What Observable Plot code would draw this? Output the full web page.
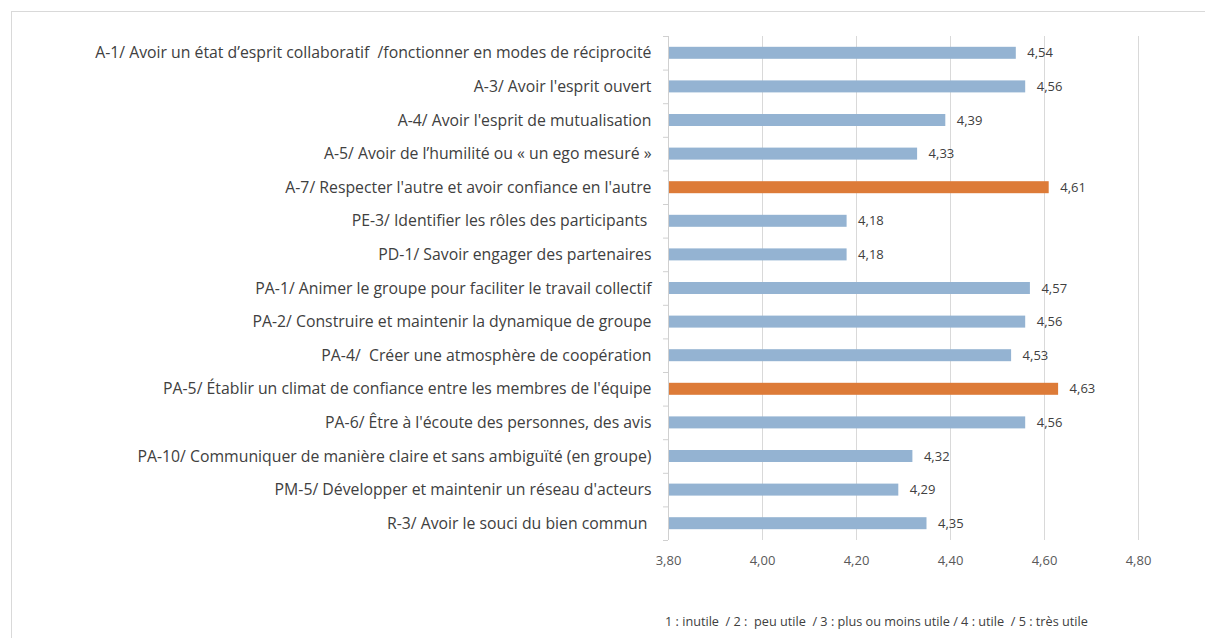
<!DOCTYPE html>
<html><head><meta charset="utf-8">
<script src="https://cdn.jsdelivr.net/npm/d3@7"></script>
<script src="https://cdn.jsdelivr.net/npm/@observablehq/plot@0.6"></script>
<style>
body{margin:0;background:#fff;font-family:"Open Sans", sans-serif;}
#frame{position:absolute;left:11px;top:11px;width:1300px;height:700px;border:1px solid #d9d9d9;box-sizing:border-box;}
#chart{position:absolute;left:0;top:0;}
#legend{position:absolute;left:665px;top:612px;font-size:12.7px;color:#404040;white-space:pre;}
</style></head><body>
<div id="frame"></div>
<div id="chart"></div>
<div id="legend">1 : inutile  / 2 :  peu utile  / 3 : plus ou moins utile / 4 : utile  / 5 : très utile</div>
<script>
const categories = [
  "A-1/ Avoir un état d’esprit collaboratif  /fonctionner en modes de réciprocité",
  "A-3/ Avoir l'esprit ouvert",
  "A-4/ Avoir l'esprit de mutualisation",
  "A-5/ Avoir de l’humilité ou « un ego mesuré »",
  "A-7/ Respecter l'autre et avoir confiance en l'autre",
  "PE-3/ Identifier les rôles des participants ",
  "PD-1/ Savoir engager des partenaires",
  "PA-1/ Animer le groupe pour faciliter le travail collectif",
  "PA-2/ Construire et maintenir la dynamique de groupe",
  "PA-4/  Créer une atmosphère de coopération",
  "PA-5/ Établir un climat de confiance entre les membres de l'équipe",
  "PA-6/ Être à l'écoute des personnes, des avis",
  "PA-10/ Communiquer de manière claire et sans ambiguïté (en groupe)",
  "PM-5/ Développer et maintenir un réseau d'acteurs",
  "R-3/ Avoir le souci du bien commun "
];
const values = [4.54, 4.56, 4.39, 4.33, 4.61, 4.18, 4.18, 4.57, 4.56, 4.53, 4.63, 4.56, 4.32, 4.29, 4.35];
const highlighted = [false, false, false, false, true, false, false, false, false, false, true, false, false, false, false];
const xTicks = [3.8, 4.0, 4.2, 4.4, 4.6, 4.8];

const data = categories.map((c, i) => ({cat: c, value: values[i], hi: highlighted[i]}));
const fmt = d => d.toFixed(2).replace(".", ",");
const step = (540 - 36) / categories.length;

const chart = Plot.plot({
  width: 1205,
  height: 580,
  marginLeft: 668,
  marginRight: 67,
  marginTop: 36,
  marginBottom: 40,
  style: {fontFamily: "'Open Sans', sans-serif", background: "transparent"},
  x: {domain: [3.8, 4.8], ticks: xTicks, tickFormat: fmt, label: null},
  y: {domain: categories, padding: 0, round: false, label: null},
  marks: [
    Plot.gridX(xTicks.slice(1), {stroke: "#d9d9d9", strokeOpacity: 1, strokeWidth: 1}),
    Plot.barX(data, {x1: 3.8, x2: "value", y: "cat", fill: d => d.hi ? "#dd7b38" : "#94b3d2", insetTop: 10.8, insetBottom: 10.8}),
    Plot.ruleX([3.8], {stroke: "#d0d0d0"}),
    Plot.axisY({tickSize: 0, tickPadding: 17, fontSize: 15.8, fill: "#404040", label: null}),
    Plot.axisY({tickSize: 5, text: null, stroke: "#d0d0d0", dy: -step / 2, label: null}),
    Plot.axisY(categories.slice(-1), {tickSize: 5, text: null, stroke: "#d0d0d0", dy: step / 2, label: null}),
    Plot.axisX({ticks: xTicks, tickFormat: fmt, tickSize: 0, tickPadding: 15, fontSize: 13, fill: "#595959", label: null}),
    Plot.text(data, {x: "value", y: "cat", text: d => fmt(d.value), textAnchor: "start", dx: 11, fontSize: 13, fill: "#404040"})
  ]
});
document.getElementById("chart").appendChild(chart);
</script>
</body></html>
